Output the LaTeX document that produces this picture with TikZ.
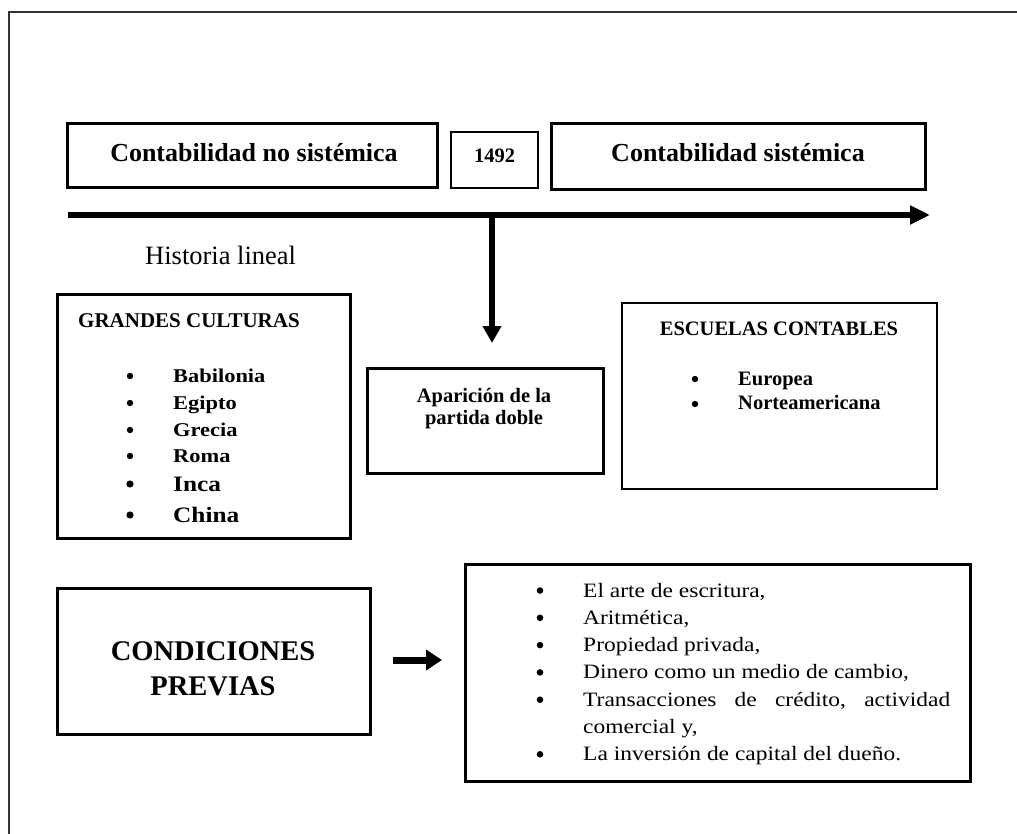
\documentclass[tikz,border=0pt]{standalone}
\usepackage{fontspec}
\setmainfont{Liberation Serif}
\newfontfamily\widefont[FakeStretch=1.15]{Liberation Serif}
\usetikzlibrary{arrows.meta}
\begin{document}
\begin{tikzpicture}[x=1pt,y=-1pt,
  box/.style={draw, line width=3pt, inner sep=0pt},
  thinbox/.style={draw, line width=1.2pt, inner sep=0pt},
  lbl/.style={inner sep=0pt, anchor=base},
  lblw/.style={inner sep=0pt, anchor=base west},
  bigb/.style={font=\bfseries\fontsize{26}{30}\selectfont},
  midb/.style={font=\bfseries\fontsize{20.5}{24}\selectfont},
  itemb/.style={font=\widefont\bfseries\fontsize{19.5}{23}\selectfont},
  itembig/.style={font=\widefont\bfseries\fontsize{22}{26}\selectfont},
  listf/.style={font=\widefont\fontsize{20.4}{24}\selectfont},
  condf/.style={font=\bfseries\fontsize{28.5}{33}\selectfont},
  thickarrow/.style={line width=6pt, -{Triangle[length=20pt,width=18pt]}},
  blt/.style={fill=black}
]
\useasboundingbox (0,0) rectangle (1017,834);

% outer frame
\draw[line width=2pt, black!80] (9,834) -- (9,12) -- (1017,12);

% top row boxes
\node[box, minimum width=370pt, minimum height=64pt] (b1) at (252,156) {};
\node[thinbox, minimum width=87pt, minimum height=56pt] (b1492) at (494.5,160) {};
\node[box, minimum width=374pt, minimum height=66pt] (b3) at (738,157) {};
\node[lbl, bigb] (t1) at (254,162) {Contabilidad no sistémica};
\node[lbl, midb] (t1492) at (494.5,163) {1492};
\node[lbl, bigb] (t3) at (738,162) {Contabilidad sistémica};

% timeline
\coordinate (tlA) at (68,215);
\coordinate (tlB) at (930,215);
\draw[thickarrow] (tlA) -- (tlB);
\node[lblw, font=\fontsize{26.5}{30}\selectfont] (hist) at (145,265) {Historia lineal};

% vertical arrow
\coordinate (vA) at (492,215);
\coordinate (vB) at (492,343);
\draw[line width=6.5pt, -{Triangle[length=17pt,width=18pt]}] (vA) -- (vB);

% Grandes culturas
\node[box, minimum width=293pt, minimum height=243pt] (gc) at (203.5,416.5) {};
\node[lblw, font=\bfseries\fontsize{21}{25}\selectfont] (gct) at (78,327) {GRANDES CULTURAS};
\foreach \n/\yy in {Babilonia/382, Egipto/409, Grecia/436, Roma/462}{
  \fill[blt] (130,\yy-6) circle (3.2pt);
  \node[lblw, itemb] (gc\n) at (173,\yy) {\n};
}
\foreach \n/\yy in {Inca/491, China/522}{
  \fill[blt] (130,\yy-7) circle (3.6pt);
  \node[lblw, itembig] (gc\n) at (173,\yy) {\n};
}

% Aparicion
\node[box, minimum width=236pt, minimum height=105pt] (ap) at (485,420.5) {};
\node[lbl, midb] (ap1) at (484,402) {Aparición de la};
\node[lbl, midb] (ap2) at (484,424) {partida doble};

% Escuelas
\node[box, line width=2.6pt, minimum width=315pt, minimum height=186pt] (es) at (779.5,396) {};
\node[lbl, midb] (est) at (779,335) {ESCUELAS CONTABLES};
\fill[blt] (695,379) circle (3.2pt);
\fill[blt] (695,404) circle (3.2pt);
\node[lblw, midb] (es1) at (738,385) {Europea};
\node[lblw, midb] (es2) at (738,409) {Norteamericana};

% Condiciones
\node[box, minimum width=313pt, minimum height=146pt] (co) at (213.5,661) {};
\node[lbl, condf] (co1) at (213,660) {CONDICIONES};
\node[lbl, condf] (co2) at (213,695) {PREVIAS};

% small arrow
\coordinate (sA) at (393,660);
\coordinate (sB) at (442,660);
\draw[line width=7pt, -{Triangle[length=16pt,width=20pt]}] (sA) -- (sB);

% list box
\node[box, minimum width=505pt, minimum height=217pt] (li) at (717.5,672.5) {};
\foreach \yy in {597, 624.3, 651.6, 678.9, 706.2, 760.8}{
  \fill[blt] (540,\yy-6.5) circle (3.3pt);
}
\node[lblw, listf] (l1) at (583,597) {El arte de escritura,};
\node[lblw, listf] (l2) at (583,624.3) {Aritmética,};
\node[lblw, listf] (l3) at (583,651.6) {Propiedad privada,};
\node[lblw, listf] (l4) at (583,678.9) {Dinero como un medio de cambio,};
\node[lblw, listf] (l5) at (583,706.2) {\makebox[367pt][l]{Transacciones\hfill de\hfill crédito,\hfill actividad}};
\node[lblw, listf] (l6) at (583,733.5) {comercial y,};
\node[lblw, listf] (l7) at (583,760.8) {La inversión de capital del dueño.};
\end{tikzpicture}
\end{document}
